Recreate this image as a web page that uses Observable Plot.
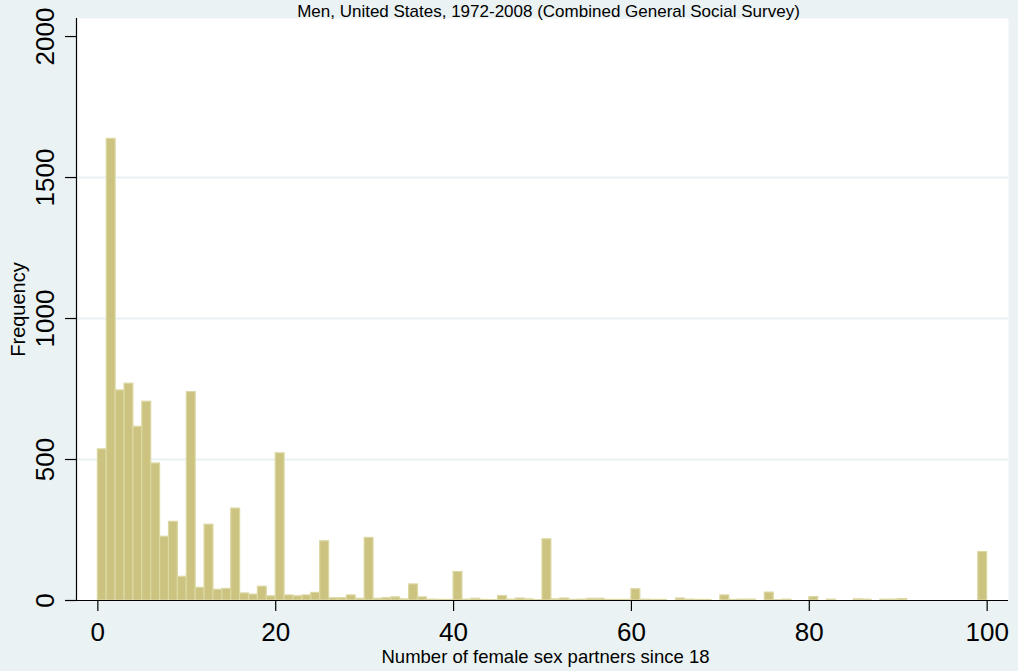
<!DOCTYPE html>
<html>
<head>
<meta charset="utf-8">
<script src="https://cdn.jsdelivr.net/npm/d3@7"></script>
<script src="https://cdn.jsdelivr.net/npm/@observablehq/plot@0.6"></script>
<style>
  html, body { margin: 0; padding: 0; background: #EAF2F3; }
  #chart svg { display: block; }
</style>
</head>
<body>
<div id="chart"></div>
<script>
// Number of female sex partners since 18 — bins of width 1 (last bin holds 99–100)
const binStart = d3.range(0, 100);
const frequency = [
  536, 1637, 745, 769, 616, 705, 486, 226, 279, 84,
  739, 45, 269, 38, 41, 326, 25, 21, 49, 15,
  522, 18, 15, 18, 27, 210, 8, 8, 18, 6,
  222, 6, 8, 11, 4, 57, 11, 3, 2, 2,
  101, 3, 6, 2, 1, 16, 3, 7, 4, 1,
  217, 4, 7, 2, 3, 6, 6, 2, 2, 2,
  40, 3, 2, 2, 0, 7, 3, 2, 2, 0,
  18, 2, 3, 3, 0, 28, 1, 3, 0, 0,
  12, 0, 3, 0, 0, 4, 3, 0, 3, 3,
  5, 0, 0, 0, 0, 0, 0, 0, 0, 172
];
const xTicks = [0, 20, 40, 60, 80, 100];
const yTicks = [0, 500, 1000, 1500, 2000];
const yGrid = [500, 1000, 1500];

const bins = binStart.map((b, i) => ({x1: b, x2: b + 1, count: frequency[i]}));

const font = "'Liberation Sans', Arial, Helvetica, sans-serif";

const chart = Plot.plot({
  width: 1018,
  height: 671,
  marginLeft: 76,
  marginRight: 10,
  marginTop: 18,
  marginBottom: 71,
  style: {background: "#EAF2F3", fontFamily: font, color: "#000"},
  x: {domain: [-2.4, 102.4]},
  y: {domain: [0, 2064]},
  marks: [
    Plot.frame({fill: "white", stroke: null}),
    Plot.gridY(yGrid, {stroke: "#EAF2F3", strokeOpacity: 1, strokeWidth: 2}),
    Plot.rectY(bins, {
      x1: "x1", x2: "x2", y: "count",
      fill: "#CBC37F", stroke: "#DCD8A4", strokeWidth: 1.2, inset: 0
    }),
    Plot.ruleY([0], {stroke: "#000", strokeWidth: 1.2}),
    Plot.ruleX([-2.4], {stroke: "#000", strokeWidth: 1.2}),
    Plot.axisX({
      ticks: xTicks, tickSize: 11, tickPadding: 11, fontSize: 26,
      stroke: "#000", strokeWidth: 1.2, label: null
    }),
    Plot.axisY({
      ticks: yTicks, tickFormat: d3.format("d"), tickSize: 11, tickPadding: 12, fontSize: 26,
      tickRotate: -90, textAnchor: "middle", lineAnchor: "bottom",
      stroke: "#000", strokeWidth: 1.2, label: null
    }),
    Plot.text(["Men, United States, 1972-2008 (Combined General Social Survey)"], {
      frameAnchor: "top", lineAnchor: "bottom", dy: -1.5, dx: 6, fontSize: 17
    }),
    Plot.text(["Number of female sex partners since 18"], {
      frameAnchor: "bottom", lineAnchor: "bottom", dy: 62, dx: 3, fontSize: 18.5
    }),
    Plot.text(["Frequency"], {
      frameAnchor: "left", rotate: -90, textAnchor: "middle", lineAnchor: "bottom",
      dx: -52, fontSize: 20
    })
  ]
});

document.getElementById("chart").append(chart);
</script>
</body>
</html>
